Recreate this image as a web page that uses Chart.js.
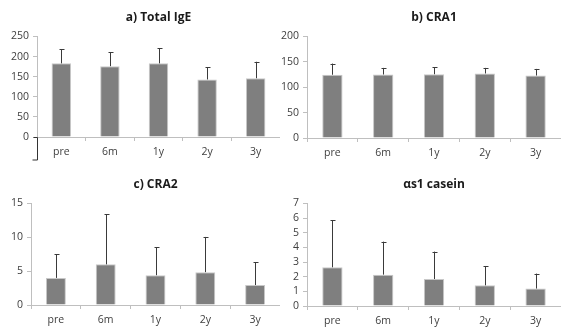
<!DOCTYPE html>
<html lang="en">

<head>
    <meta charset="UTF-8">
    <title>Total IgE, CRA1, CRA2, αs1 casein</title>
    <script src="https://cdn.jsdelivr.net/npm/chart.js"></script>
    <style>
        body { margin: 0; background: #fff; }
        .panel { position: absolute; }
    </style>
</head>

<body>
    <div class="panel" style="left:0;top:0;width:280px;height:165px"><canvas id="chartA"></canvas></div>
    <div class="panel" style="left:280px;top:0;width:281px;height:165px"><canvas id="chartB"></canvas></div>
    <div class="panel" style="left:0;top:165px;width:280px;height:162px"><canvas id="chartC"></canvas></div>
    <div class="panel" style="left:280px;top:165px;width:281px;height:162px"><canvas id="chartD"></canvas></div>

    <script>
        // time points
        const labels = ['pre', '6m', '1y', '2y', '3y'];

        // a) Total IgE
        const igeMean = [183, 176, 183, 143, 146];
        const igeSd = [35, 35, 38, 30, 41];

        // b) CRA1
        const cra1Mean = [124.5, 125, 125.5, 127, 123];
        const cra1Sd = [22, 13, 13.5, 11, 13];

        // c) CRA2
        const cra2Mean = [4.0, 6.0, 4.4, 4.85, 2.95];
        const cra2Sd = [3.5, 7.4, 4.1, 5.2, 3.35];

        // αs1 casein
        const caseinMean = [2.64, 2.14, 1.84, 1.41, 1.19];
        const caseinSd = [3.22, 2.25, 1.87, 1.32, 1.02];

        const FONT = 'Open Sans';
        const AXIS = '#bfbfbf';
        const TEXT = '#404040';

        // draws the upper error bar (mean + sd) for each bar
        const errorBars = {
            id: 'errorBars',
            afterDatasetsDraw(chart, args, opts) {
                const ctx = chart.ctx;
                const y = chart.scales.y;
                const meta = chart.getDatasetMeta(0);
                const ds = chart.data.datasets[0];
                ctx.save();
                ctx.strokeStyle = '#3a3a3a';
                ctx.lineWidth = 1;
                meta.data.forEach((bar, i) => {
                    const top = y.getPixelForValue(ds.data[i] + opts.sd[i]);
                    const x = Math.round(bar.x) + 0.5;
                    ctx.beginPath();
                    ctx.moveTo(x, bar.y);
                    ctx.lineTo(x, top);
                    ctx.moveTo(x - 2, Math.round(top) + 0.5);
                    ctx.lineTo(x + 3, Math.round(top) + 0.5);
                    ctx.stroke();
                });
                ctx.restore();
            }
        };

        // the stray bracket under the y axis of panel a
        const bracket = {
            id: 'bracket',
            afterDraw(chart, args, opts) {
                if (!opts.show) return;
                const ctx = chart.ctx;
                const a = chart.chartArea;
                const x = Math.round(a.left) + 0.5;
                ctx.save();
                ctx.strokeStyle = '#333';
                ctx.lineWidth = 1;
                ctx.beginPath();
                ctx.moveTo(x - 4, a.bottom + 0.5);
                ctx.lineTo(x, a.bottom + 0.5);
                ctx.lineTo(x, a.bottom + 23);
                ctx.lineTo(x - 5, a.bottom + 23);
                ctx.stroke();
                ctx.restore();
            }
        };

        function makeChart(id, title, mean, sd, max, step, yWidth, xHeight, topPad, showBracket) {
            return new Chart(document.getElementById(id), {
                type: 'bar',
                data: {
                    labels: labels,
                    datasets: [{
                        data: mean,
                        backgroundColor: '#7f7f7f',
                        borderColor: '#c8c8c8',
                        borderWidth: 1,
                        barPercentage: 0.4,
                        categoryPercentage: 1
                    }]
                },
                options: {
                    responsive: true,
                    maintainAspectRatio: false,
                    animation: false,
                    layout: { padding: { top: 0, right: 0, left: 0, bottom: 0 } },
                    plugins: {
                        legend: { display: false },
                        tooltip: { enabled: false },
                        title: {
                            display: true,
                            text: title,
                            fullSize: false,
                            color: '#1a1a1a',
                            font: { family: FONT, size: 12, weight: 'bold' },
                            padding: { top: topPad - 26, bottom: 12 }
                        },
                        errorBars: { sd: sd },
                        bracket: { show: showBracket }
                    },
                    scales: {
                        x: {
                            offset: true,
                            grid: {
                                offset: true,
                                drawOnChartArea: false,
                                tickLength: 4,
                                color: AXIS
                            },
                            border: { color: AXIS },
                            ticks: {
                                color: TEXT,
                                padding: 5,
                                font: { family: FONT, size: 10.5 }
                            },
                            afterFit(s) { s.height = xHeight; }
                        },
                        y: {
                            min: 0,
                            max: max,
                            grid: {
                                drawOnChartArea: false,
                                tickLength: 4,
                                color: AXIS
                            },
                            border: { color: AXIS },
                            ticks: {
                                stepSize: step,
                                autoSkip: false,
                                color: TEXT,
                                padding: 4,
                                font: { family: FONT, size: 10.5 }
                            },
                            afterFit(s) { s.width = yWidth; }
                        }
                    }
                },
                plugins: [errorBars, bracket]
            });
        }

        makeChart('chartA', 'a) Total IgE', igeMean, igeSd, 250, 50, 37, 28, 36, true);
        makeChart('chartB', 'b) CRA1', cra1Mean, cra1Sd, 200, 50, 27, 27, 36, false);
        makeChart('chartC', 'c) CRA2', cra2Mean, cra2Sd, 15, 5, 31, 22, 38, false);
        makeChart('chartD', 'αs1 casein', caseinMean, caseinSd, 7, 1, 27, 21, 38, false);
    </script>
</body>

</html>
